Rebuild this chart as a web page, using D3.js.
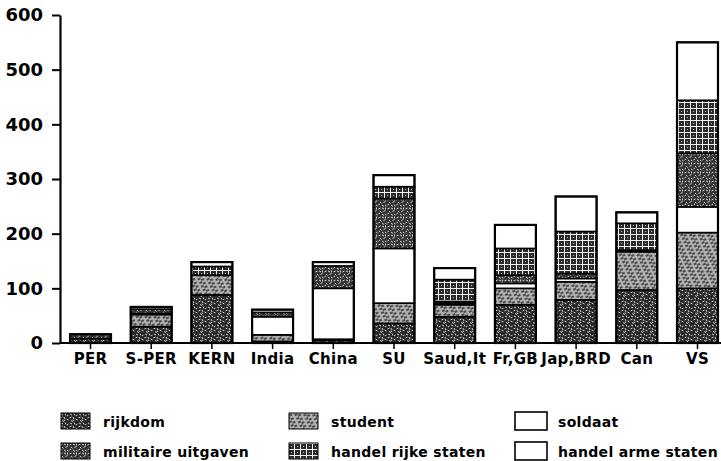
<!DOCTYPE html>
<html>
<head>
<meta charset="utf-8">
<script src="https://cdn.jsdelivr.net/npm/d3@7"></script>
<style>
  body { margin: 0; background: #fff; }
  svg { display: block; }
</style>
</head>
<body>
<svg id="chart"></svg>
<script>
// data
const categories = ['PER', 'S-PER', 'KERN', 'India', 'China', 'SU', 'Saud,It', 'Fr,GB', 'Jap,BRD', 'Can', 'VS'];
const rijkdom    = [8, 30, 88, 3, 5, 36, 48, 70, 79, 97, 100];
const student    = [0, 22, 36, 12, 2, 37, 22, 30, 33, 70, 102];
const soldaat    = [0, 2, 0, 33, 93, 100, 3, 9, 6, 0, 47];
const militaire  = [8, 8, 0, 8, 41, 91, 3, 15, 9, 3, 98];
const handelRijk = [0, 0, 16, 0, 0, 22, 40, 49, 77, 49, 97];
const handelArm  = [0, 4, 8, 5, 7, 21, 21, 43, 64, 20, 106];
const yTicks = [0, 100, 200, 300, 400, 500, 600];

// stack order, bottom to top
const series = [
  { key: 'rijkdom', label: 'rijkdom', values: rijkdom, fill: 'url(#pat-rijk)' },
  { key: 'student', label: 'student', values: student, fill: 'url(#pat-stud)' },
  { key: 'soldaat', label: 'soldaat', values: soldaat, fill: '#fff' },
  { key: 'militaire', label: 'militaire uitgaven', values: militaire, fill: 'url(#pat-mil)' },
  { key: 'handelRijk', label: 'handel rijke staten', values: handelRijk, fill: 'url(#pat-grid)' },
  { key: 'handelArm', label: 'handel arme staten', values: handelArm, fill: '#fff' },
];

const width = 721, height = 461;
const axisX = 60, axisY = 343, topY = 15;
const font = "'DejaVu Sans', sans-serif";

const svg = d3.select('#chart').attr('width', width).attr('height', height);
svg.append('rect').attr('width', width).attr('height', height).attr('fill', '#fff');

// patterns
const defs = svg.append('defs');
function speckle(id, bg, strokes) {
  const p = defs.append('pattern').attr('id', id)
    .attr('patternUnits', 'userSpaceOnUse').attr('width', 9).attr('height', 9);
  p.append('rect').attr('width', 9).attr('height', 9).attr('fill', bg);
  p.append('path').attr('d', strokes)
    .attr('stroke', '#e8e8e8').attr('stroke-width', 0.9).attr('fill', 'none');
}
speckle('pat-rijk', '#262626', 'M1,1 l2,1 M5,0.5 l1,2 M7,3 l1.5,-1 M0.5,5 l2,-1 M4,4 l1,2 M6.5,6 l2,1 M2,7.5 l2,1 M5,8 l-1,-1.5');
speckle('pat-mil', '#333', 'M0.5,2 l2,-1 M4,1 l2,1 M7.5,0.5 l0,2 M2,4 l1.5,1.5 M5.5,4.5 l2,-1 M0.5,7 l1.5,-1 M4,7 l2,1.5 M7,7 l1.5,1');

// student: grey with light streaks slanting upward
const stud = defs.append('pattern').attr('id', 'pat-stud')
  .attr('patternUnits', 'userSpaceOnUse').attr('width', 8).attr('height', 4)
  .attr('patternTransform', 'rotate(-25)');
stud.append('rect').attr('width', 8).attr('height', 4).attr('fill', '#6e6e6e');
stud.append('path').attr('d', 'M0,1 h5 M3,3 h5').attr('stroke', '#f4f4f4').attr('stroke-width', 1.1);
stud.append('path').attr('d', 'M5,1 h3 M0,3 h3').attr('stroke', '#1e1e1e').attr('stroke-width', 0.9);

const grid = defs.append('pattern').attr('id', 'pat-grid')
  .attr('patternUnits', 'userSpaceOnUse').attr('width', 6).attr('height', 6);
grid.append('rect').attr('width', 6).attr('height', 6).attr('fill', '#2a2a2a');
grid.append('path').attr('d', 'M0,0.5 h6 M0.5,0 v6').attr('stroke', '#f2f2f2').attr('stroke-width', 1);
grid.append('rect').attr('x', 3).attr('y', 3).attr('width', 1).attr('height', 1).attr('fill', '#bbb');

// scales
const x = d3.scaleBand().domain(categories)
  .range([axisX, 728]).paddingInner(0.325).paddingOuter(0.165);
const y = d3.scaleLinear().domain([0, 600]).range([axisY, topY]);

// stacked data
const table = categories.map((c, i) => {
  const row = { cat: c };
  series.forEach(s => { row[s.key] = s.values[i]; });
  return row;
});
const stack = d3.stack().keys(series.map(s => s.key))(table);

const layers = svg.append('g').attr('id', 'bars')
  .selectAll('g').data(stack).enter().append('g')
  .attr('fill', (d, i) => series[i].fill);

layers.selectAll('rect')
  .data(d => d.filter(v => v[1] - v[0] > 0))
  .enter().append('rect')
  .attr('x', d => x(d.data.cat))
  .attr('width', x.bandwidth())
  .attr('y', d => y(d[1]))
  .attr('height', d => y(d[0]) - y(d[1]))
  .attr('stroke', '#000')
  .attr('stroke-width', 1.6);

// bar outlines
svg.append('g').selectAll('rect').data(table).enter().append('rect')
  .attr('x', d => x(d.cat))
  .attr('width', x.bandwidth())
  .attr('y', d => y(d3.sum(series, s => d[s.key])))
  .attr('height', d => axisY - y(d3.sum(series, s => d[s.key])))
  .attr('fill', 'none')
  .attr('stroke', '#000')
  .attr('stroke-width', 2.2);

// y axis
const yAxis = svg.append('g')
  .attr('transform', `translate(${axisX},0)`)
  .call(d3.axisLeft(y).tickValues(yTicks).tickSize(8).tickSizeOuter(0).tickPadding(9));
yAxis.select('.domain').attr('stroke-width', 2.2);
yAxis.selectAll('.tick line').attr('stroke-width', 2);
yAxis.selectAll('.tick text')
  .attr('font-family', font).attr('font-size', 18).attr('font-weight', 'bold').attr('fill', '#000');

// x axis
const xAxis = svg.append('g')
  .attr('transform', `translate(0,${axisY})`)
  .call(d3.axisBottom(x).tickSize(6).tickSizeOuter(0).tickPadding(4));
xAxis.select('.domain').remove();
xAxis.selectAll('.tick line').attr('stroke-width', 1.5);
xAxis.selectAll('.tick text')
  .attr('font-family', font).attr('font-size', 15).attr('font-weight', 'bold')
  .attr('letter-spacing', 0.3).attr('fill', '#000');
svg.append('line')
  .attr('x1', axisX).attr('x2', width).attr('y1', axisY).attr('y2', axisY)
  .attr('stroke', '#000').attr('stroke-width', 2.2);

// legend, three columns of two rows
const legendOrder = ['rijkdom', 'militaire', 'student', 'handelRijk', 'soldaat', 'handelArm'];
const colX = [60, 288, 515];
const rowY = [413, 443];
const legend = svg.append('g').attr('id', 'legend');
legendOrder.forEach((k, i) => {
  const s = series.find(d => d.key === k);
  const col = Math.floor(i / 2), row = i % 2;
  const g = legend.append('g').attr('transform', `translate(${colX[col]},${rowY[row]})`);
  const white = s.fill === '#fff';
  g.append('rect')
    .attr('x', white ? 0 : 1).attr('width', white ? 32 : 29)
    .attr('y', white ? -1 : 0).attr('height', white ? 18 : 16)
    .attr('fill', s.fill)
    .attr('stroke', '#000').attr('stroke-width', white ? 1.6 : 1);
  g.append('text')
    .attr('x', 43).attr('y', 14)
    .attr('font-family', font).attr('font-size', 14).attr('font-weight', 'bold')
    .attr('letter-spacing', 0.3)
    .text(s.label);
});
</script>
</body>
</html>
